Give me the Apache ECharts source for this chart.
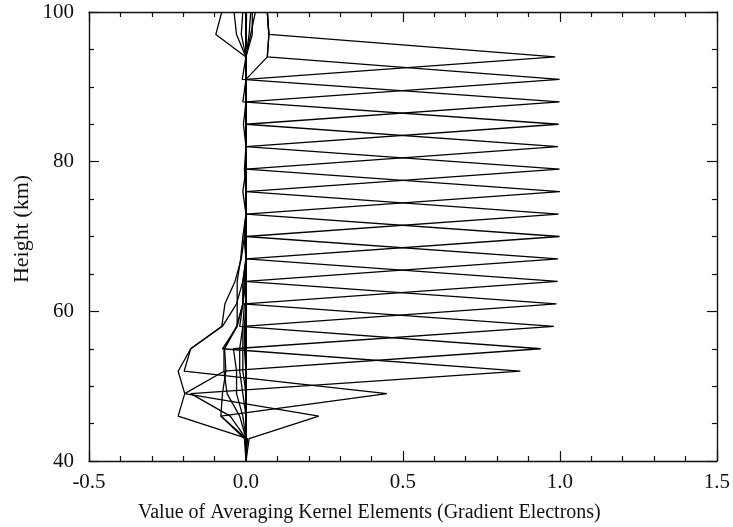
<!DOCTYPE html>
<html>
<head>
<meta charset="utf-8">
<script src="https://cdn.jsdelivr.net/npm/echarts@6/dist/echarts.min.js"></script>
<style>
  html, body { margin: 0; padding: 0; background: #fff; }
  #chart { width: 733px; height: 527px; }
</style>
</head>
<body>
<div id="chart"></div>
<script>
// heights of the retrieval levels (km)
var heights = [40, 43, 46, 49, 52, 55, 58, 61, 64, 67, 70, 73, 76, 79, 82, 85, 88, 91, 94, 97, 100];

// one averaging kernel per level (index follows heights)
var kernel40  = [0, -0.005, -0.080, -0.075, -0.064, -0.068, -0.028, -0.010, -0.005, 0, 0, 0, 0, 0, 0, 0, 0, 0, 0, 0, 0];
var kernel43  = [0, 0.005, -0.216, -0.195, -0.070, -0.070, -0.030, -0.010, 0, 0, 0, 0, 0, 0, 0, 0, 0, 0, 0, 0, 0];
var kernel46  = [0, 0.010, 0.232, -0.195, -0.216, -0.176, -0.075, -0.030, -0.010, 0, 0, 0, 0, 0, 0, 0, 0, 0, 0, 0, 0];
var kernel49  = [0, 0, -0.080, 0.449, -0.197, -0.176, -0.077, -0.067, -0.035, -0.015, -0.005, 0, 0, 0, 0, 0, 0, 0, 0, 0, 0];
var kernel52  = [0, 0, -0.050, -0.176, 0.874, -0.075, -0.028, -0.028, -0.028, -0.017, -0.010, 0, 0, 0, 0, 0, 0, 0, 0, 0, 0];
var kernel55  = [0, 0, -0.020, -0.060, -0.070, 0.939, -0.020, -0.010, -0.005, 0, 0, 0, 0, 0, 0, 0, 0, 0, 0, 0, 0];
var kernel58  = [0, 0, -0.010, -0.030, -0.030, -0.040, 0.981, -0.010, -0.010, 0, 0, 0, 0, 0, 0, 0, 0, 0, 0, 0, 0];
var kernel61  = [0, 0, 0, -0.010, -0.020, -0.020, -0.010, 0.989, -0.005, 0, 0, 0, 0, 0, 0, 0, 0, 0, 0, 0, 0];
var kernel64  = [0, 0, 0, 0, -0.010, -0.010, -0.010, -0.005, 0.993, 0, -0.005, 0, 0, 0, 0, 0, 0, 0, 0, 0, 0];
var kernel67  = [0, 0, 0, 0, 0, -0.005, -0.005, 0, 0, 0.994, 0, 0, 0, 0, 0, 0, 0, 0, 0, 0, 0];
var kernel70  = [0, 0, 0, 0, 0, 0, 0, 0, 0, 0, 0.999, 0, 0, -0.005, 0, 0, 0, 0, 0, 0, 0];
var kernel73  = [0, 0, 0, 0, 0, 0, 0, 0, 0, 0, 0, 0.996, 0, 0, 0, 0, 0, 0, 0, 0, 0];
var kernel76  = [0, 0, 0, 0, 0, 0, 0, 0, 0, 0, -0.005, 0, 1.000, 0, 0, 0, 0, 0, 0, 0.015, 0.030];
var kernel79  = [0, 0, 0, 0, 0, 0, 0, 0, 0, 0, 0, 0, 0, 0.999, 0, -0.008, 0, 0, 0, 0.020, 0.020];
var kernel82  = [0, 0, 0, 0, 0, 0, 0, 0, 0, 0, 0, 0, -0.010, 0, 0.994, 0, 0, 0, 0, -0.015, -0.010];
var kernel85  = [0, 0, 0, 0, 0, 0, 0, 0, 0, 0, 0, 0, 0, 0, 0, 0.996, -0.010, 0, 0, 0.010, 0.015];
var kernel88  = [0, 0, 0, 0, 0, 0, 0, 0, 0, 0, 0, 0, 0, 0, 0, 0, 0.999, -0.012, 0, -0.030, -0.038];
var kernel91  = [0, 0, 0, 0, 0, 0, 0, 0, 0, 0, 0, 0, 0, 0, 0, 0, 0, 0.999, 0.068, 0.073, 0.068];
var kernel94  = [0, 0, 0, 0, 0, 0, 0, 0, 0, 0, 0, 0, 0, 0, 0, 0, 0, 0, 0.985, 0.073, 0.068];
var kernel97  = [0, 0, 0, 0, 0, 0, 0, 0, 0, 0, 0, 0, 0, 0, 0, 0, 0, 0, 0, -0.096, -0.077];
var kernel100 = [0, 0, 0, 0, 0, 0, 0, 0, 0, 0, 0, 0, 0, 0, 0, 0, 0, 0, 0.068, 0.073, 0.068];

var kernels = [kernel40, kernel43, kernel46, kernel49, kernel52, kernel55, kernel58,
  kernel61, kernel64, kernel67, kernel70, kernel73, kernel76, kernel79, kernel82,
  kernel85, kernel88, kernel91, kernel94, kernel97, kernel100];

var xTicks = [-0.5, 0.0, 0.5, 1.0, 1.5];
var yTicks = [40, 60, 80, 100];

var fontFamily = '"Liberation Serif", "DejaVu Serif", serif';

var series = kernels.map(function (k, j) {
  return {
    name: 'AK ' + heights[j],
    type: 'line',
    data: k.map(function (v, i) { return [v, heights[i]]; }),
    showSymbol: false,
    symbol: 'none',
    silent: true,
    lineStyle: { color: '#000', width: 1.3 },
    z: 2
  };
});

function axisBase(show) {
  return {
    axisLine: { show: true, onZero: false, lineStyle: { color: '#111', width: 1.4 } },
    axisTick: { show: true, inside: true, length: 10, lineStyle: { color: '#111', width: 1.2 } },
    minorTick: { show: true, splitNumber: 5, length: 5, lineStyle: { color: '#111', width: 1.2 } },
    splitLine: { show: false },
    axisLabel: { show: show, color: '#111', fontFamily: fontFamily, fontSize: 21 }
  };
}

var xBottom = Object.assign(axisBase(true), {
  type: 'value', position: 'bottom', min: xTicks[0], max: xTicks[xTicks.length - 1], interval: 0.5
});
xBottom.axisLabel.margin = 11;
xBottom.axisLabel.formatter = function (v) { return v.toFixed(1); };

var xTop = Object.assign(axisBase(false), {
  type: 'value', position: 'top', min: xTicks[0], max: xTicks[xTicks.length - 1], interval: 0.5
});

var yLeft = Object.assign(axisBase(true), {
  type: 'value', position: 'left', min: yTicks[0], max: yTicks[yTicks.length - 1], interval: 20
});
yLeft.minorTick.splitNumber = 4;
yLeft.axisLabel.margin = 15;

var yRight = Object.assign(axisBase(false), {
  type: 'value', position: 'right', min: yTicks[0], max: yTicks[yTicks.length - 1], interval: 20
});
yRight.minorTick.splitNumber = 4;

var chart = echarts.init(document.getElementById('chart'), null, { renderer: 'canvas' });
chart.setOption({
  animation: false,
  backgroundColor: '#fff',
  grid: { left: 89, right: 13, top: 12, bottom: 66, containLabel: false },
  xAxis: [xBottom, xTop],
  yAxis: [yLeft, yRight],
  series: series,
  graphic: [
    {
      type: 'text', left: 138, top: 503,
      style: { text: 'Value of Averaging Kernel Elements (Gradient Electrons)', font: '20px ' + fontFamily, fill: '#111' }
    },
    {
      type: 'text', x: 22, y: 229, rotation: Math.PI / 2,
      style: { text: 'Height (km)', font: '22px ' + fontFamily, fill: '#111', align: 'center', verticalAlign: 'middle' }
    }
  ]
});
</script>
</body>
</html>
